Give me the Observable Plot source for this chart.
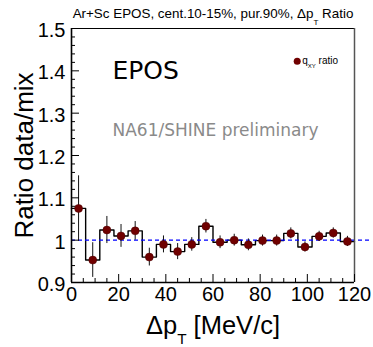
<!DOCTYPE html>
<html>
<head>
<meta charset="utf-8">
<script src="https://cdn.jsdelivr.net/npm/d3@7"></script>
<script src="https://cdn.jsdelivr.net/npm/@observablehq/plot@0.6"></script>
<style>
  html, body { margin: 0; padding: 0; background: white; }
</style>
</head>
<body>
<div id="chart"></div>
<script>
// ---- data ----
const binEdges = [0, 6, 12, 18, 24, 30, 36, 42, 48, 54, 60, 66, 72, 78, 84, 90, 96, 102, 108, 114, 120];
const ratio = [1.075, 0.953, 1.024, 1.010, 1.022, 0.960, 0.990, 0.973, 0.990, 1.033,
               0.995, 1.000, 0.989, 0.999, 0.999, 1.016, 0.984, 1.009, 1.017, 0.997];
const ratioErr = [0.077, 0.041, 0.032, 0.027, 0.022, 0.021, 0.020, 0.019, 0.016, 0.016,
                  0.015, 0.014, 0.014, 0.013, 0.013, 0.013, 0.012, 0.012, 0.012, 0.012];
const xTicks = [0, 20, 40, 60, 80, 100, 120];
const xTickLabels = ["0", "20", "40", "60", "80", "100", "120"];
const yTicks = [0.9, 1.0, 1.1, 1.2, 1.3, 1.4, 1.5];
const yTickLabels = ["0.9", "1", "1.1", "1.2", "1.3", "1.4", "1.5"];
const reference = [1];
const titleText = "Ar+Sc EPOS, cent.10-15%, pur.90%, Δp_{T} Ratio";
const xTitle = "Δp_{T} [MeV/c]";
const yTitle = "Ratio data/mix";
const modelText = "EPOS";
const prelimText = "NA61/SHINE preliminary";
const legendText = "q_{XY} ratio";

// ---- derived tables ----
const bins = ratio.map((v, i) => ({
  x: (binEdges[i] + binEdges[i + 1]) / 2,
  y: v,
  lo: v - ratioErr[i],
  hi: v + ratioErr[i]
}));
const steps = binEdges.map((e, i) => ({x: e, y: ratio[Math.min(i, ratio.length - 1)]}));
const xMinor = d3.range(0, 121, 5).filter(d => !xTicks.includes(d));
const yMinor = d3.ticks(0.9, 1.5, 30).filter(d => !yTicks.some(t => Math.abs(t - d) < 1e-9));
const xLab = new Map(xTicks.map((t, i) => [t, xTickLabels[i]]));
const yLab = new Map(yTicks.map((t, i) => [t.toFixed(1), yTickLabels[i]]));

const plot = Plot.plot({
  width: 373,
  height: 347,
  marginLeft: 71,
  marginRight: 19,
  marginTop: 28,
  marginBottom: 65,
  style: {fontFamily: "'Liberation Sans', Arial, sans-serif", fontSize: "13px", background: "white", overflow: "visible", color: "black"},
  x: {domain: [0, 120]},
  y: {domain: [0.9, 1.5]},
  marks: [
    // histogram outline
    Plot.line(steps, {x: "x", y: "y", curve: "step-after", stroke: "black", strokeWidth: 1.4}),
    // reference line
    Plot.ruleY(reference, {stroke: "#0000ff", strokeWidth: 1.3, strokeDasharray: "4,3", insetRight: -18}),
    // error bars
    Plot.ruleX(bins, {x: "x", y1: "lo", y2: "hi", stroke: "#111", strokeWidth: 1}),
    // points
    Plot.dot(bins, {x: "x", y: "y", r: 4, fill: "#700000", stroke: "#4a0000", strokeWidth: 0.5}),
    // frame
    Plot.ruleY([1.5], {stroke: "black", strokeWidth: 1}),
    Plot.ruleX([120], {stroke: "#555", strokeWidth: 1.5}),
    Plot.ruleX([0], {stroke: "black", strokeWidth: 1.6}),
    Plot.ruleY([0.9], {stroke: "black", strokeWidth: 1.6}),
    // inward ticks
    Plot.axisX(xTicks, {tickSize: -8, fill: "none", label: null}),
    Plot.axisX(xMinor, {tickSize: -4, fill: "none", label: null}),
    Plot.axisY(yTicks, {tickSize: -8, fill: "none", label: null}),
    Plot.axisY(yMinor, {tickSize: -4, fill: "none", label: null}),
    // tick labels
    Plot.axisX(xTicks, {tickSize: 0, tickPadding: 4, fontSize: 20, tickFormat: d => xLab.get(d), label: null}),
    Plot.axisY(yTicks, {tickSize: 0, tickPadding: 6, fontSize: 20, dy: 2, tickFormat: d => yLab.get((+d).toFixed(1)), label: null}),
    // titles
    Plot.text([titleText], {frameAnchor: "top", lineAnchor: "middle", textAnchor: "middle", dy: -14.3, fontSize: 13.4, fill: "black"}),
    Plot.text([xTitle], {frameAnchor: "bottom", lineAnchor: "middle", textAnchor: "middle", dy: 43.5, fontSize: 25.5, fill: "black"}),
    Plot.text([yTitle], {frameAnchor: "left", lineAnchor: "middle", textAnchor: "middle", dx: -47.3, rotate: -90, fontSize: 26, fill: "black"}),
    // annotations
    Plot.text([modelText], {frameAnchor: "top-left", lineAnchor: "middle", textAnchor: "start", dx: 41, dy: 42, fontSize: 25, fontFamily: "'DejaVu Sans'", fill: "black"}),
    Plot.text([prelimText], {frameAnchor: "top-left", lineAnchor: "middle", textAnchor: "start", dx: 41, dy: 101.7, fontSize: 17, fontFamily: "'DejaVu Sans'", fill: "#8a8a8a"}),
    // legend
    Plot.dot([legendText], {frameAnchor: "top-left", dx: 225.7, dy: 32.7, r: 3.5, fill: "#700000"}),
    Plot.text([legendText], {frameAnchor: "top-left", lineAnchor: "middle", textAnchor: "start", dx: 230.7, dy: 31.8, fontSize: 10, fill: "black"})
  ]
});

document.getElementById("chart").appendChild(plot);

// convert "_{...}" markup into real subscript tspans
const SVGNS = "http://www.w3.org/2000/svg";
plot.querySelectorAll("text").forEach(t => {
  const s = t.textContent;
  if (!s.includes("_{")) return;
  const fs = parseFloat(getComputedStyle(t).fontSize);
  const drop = fs > 20 ? 0.38 : 0.46;
  const parts = s.split(/(_\{[^}]*\})/).filter(p => p);
  t.textContent = "";
  let shift = 0;
  parts.forEach(p => {
    const ts = document.createElementNS(SVGNS, "tspan");
    if (p.startsWith("_{")) {
      ts.textContent = p.slice(2, -1);
      ts.setAttribute("font-size", (fs * 0.6).toFixed(2));
      ts.setAttribute("dy", (fs * drop).toFixed(2));
      shift = fs * drop;
    } else {
      ts.textContent = p;
      if (shift) ts.setAttribute("dy", (-shift).toFixed(2));
      shift = 0;
    }
    t.appendChild(ts);
  });
});
</script>
</body>
</html>
